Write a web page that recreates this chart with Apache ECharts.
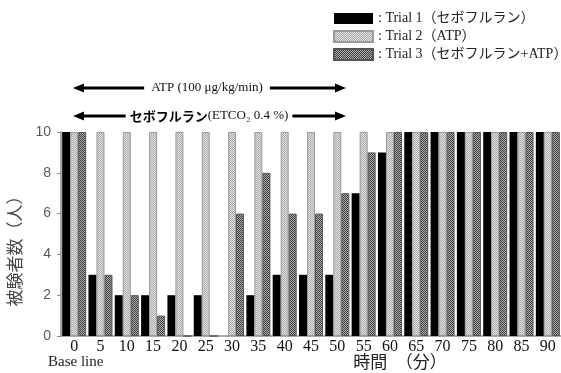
<!DOCTYPE html>
<html>
<head>
<meta charset="utf-8">
<script src="https://cdn.jsdelivr.net/npm/echarts@6/dist/echarts.min.js"></script>
<style>
  html, body { margin: 0; padding: 0; background: #fff; }
  #main { width: 561px; height: 373px; }
</style>
</head>
<body>
<div id="main"></div>
<script>
// 時間（分）
var minutes = ['0', '5', '10', '15', '20', '25', '30', '35', '40', '45', '50', '55', '60', '65', '70', '75', '80', '85', '90'];
var seriesNames = ['Trial 1（セボフルラン）', 'Trial 2（ATP）', 'Trial 3（セボフルラン+ATP）'];
// 被験者数（人）
var trial1 = [10, 3, 2, 2, 2, 2, 0, 2, 3, 3, 3, 7, 9, 10, 10, 10, 10, 10, 10];
var trial2 = [10, 10, 10, 10, 10, 10, 10, 10, 10, 10, 10, 10, 10, 10, 10, 10, 10, 10, 10];
var trial3 = [10, 3, 2, 1, 0, 0, 6, 8, 6, 6, 7, 9, 10, 10, 10, 10, 10, 10, 10];
var yTicks = [0, 2, 4, 6, 8, 10];

var serif = "'Liberation Serif', 'Noto Sans CJK JP', serif";
var gothic = "'Noto Sans CJK JP', sans-serif";

// hatch patterns for trial 2 / 3
function makePattern(a, b) {
  var c = document.createElement('canvas');
  c.width = 2; c.height = 2;
  var ctx = c.getContext('2d');
  ctx.fillStyle = a; ctx.fillRect(0, 0, 2, 2);
  ctx.fillStyle = b; ctx.fillRect(0, 0, 1, 1); ctx.fillRect(1, 1, 1, 1);
  return { image: c, repeat: 'repeat' };
}
var pat2 = makePattern('#e2e2e2', '#ababab');
var pat3 = makePattern('#b0b0b0', '#3c3c3c');

var myChart = echarts.init(document.getElementById('main'));

// arrow: line with heads at both ends
function arrow(y, x1, x2) {
  return [
    { type: 'line', shape: { x1: x1 + 8, y1: y, x2: x2 - 8, y2: y }, style: { stroke: '#000', lineWidth: 3 } },
    { type: 'polygon', shape: { points: [[x1, y], [x1 + 11, y - 4.5], [x1 + 11, y + 4.5]] }, style: { fill: '#000' } },
    { type: 'polygon', shape: { points: [[x2, y], [x2 - 11, y - 4.5], [x2 - 11, y + 4.5]] }, style: { fill: '#000' } }
  ];
}

var graphics = [].concat(
  arrow(88, 73, 346),
  arrow(116, 73, 346),
  [
    {
      type: 'text', x: 207, y: 88,
      style: {
        text: 'ATP (100 μg/kg/min)', font: '13px ' + serif, fill: '#111',
        align: 'center', verticalAlign: 'middle', backgroundColor: '#fff', padding: [0, 7]
      }
    },
    {
      type: 'text', x: 209, y: 116,
      style: {
        text: '{b|セボフルラン}{s|(ETCO₂ 0.4 %)}',
        align: 'center', verticalAlign: 'middle', backgroundColor: '#fff', padding: [0, 4],
        rich: {
          b: { font: 'bold 13px ' + gothic, fill: '#000' },
          s: { font: '13px ' + serif, fill: '#111' }
        }
      }
    },
    {
      type: 'text', x: 15, y: 247, rotation: Math.PI / 2,
      style: { text: '被験者数（人）', font: '17px ' + gothic, fill: '#454545', align: 'center', verticalAlign: 'middle' }
    },
    {
      type: 'text', x: 400, y: 362,
      style: { text: '時間　（分）', font: '17px ' + gothic, fill: '#222', align: 'center', verticalAlign: 'middle' }
    },
    {
      type: 'text', x: 48, y: 362,
      style: { text: 'Base line', font: '15px ' + serif, fill: '#222', verticalAlign: 'middle' }
    }
  ]
);

var option = {
  animation: false,
  backgroundColor: '#fff',
  legend: {
    orient: 'vertical',
    left: 328, top: 6,
    itemWidth: 39, itemHeight: 11, itemGap: 3,
    icon: 'rect',
    data: seriesNames,
    formatter: ': {name}',
    textStyle: { fontFamily: serif, fontSize: 14, lineHeight: 15, color: '#222' }
  },
  grid: { left: 61, right: -6, top: 132, bottom: 37 },
  xAxis: {
    type: 'category',
    data: minutes,
    axisLine: { lineStyle: { color: '#8c8c8c', width: 1.5 } },
    axisTick: { show: false },
    axisLabel: { fontFamily: serif, fontSize: 16, color: '#111', margin: 3, interval: 0 }
  },
  yAxis: {
    type: 'value',
    min: yTicks[0], max: yTicks[yTicks.length - 1], interval: 2,
    splitLine: { show: false },
    axisLine: { show: true, lineStyle: { color: '#8c8c8c', width: 1.5 } },
    axisTick: { show: true, length: 4, lineStyle: { color: '#8c8c8c' } },
    axisLabel: { fontFamily: "'Liberation Sans', sans-serif", fontSize: 14, color: '#595959', margin: 10 }
  },
  series: [
    {
      name: seriesNames[0], type: 'bar', data: trial1,
      barWidth: 8, barGap: '0%',
      itemStyle: { color: '#000' }
    },
    {
      name: seriesNames[1], type: 'bar', data: trial2,
      barWidth: 8, barGap: '0%',
      itemStyle: { color: pat2, borderColor: '#9a9a9a', borderWidth: 1 }
    },
    {
      name: seriesNames[2], type: 'bar', data: trial3,
      barWidth: 8, barGap: '0%',
      itemStyle: { color: pat3, borderColor: '#555', borderWidth: 1 }
    }
  ],
  graphic: graphics
};

myChart.setOption(option);
</script>
</body>
</html>
